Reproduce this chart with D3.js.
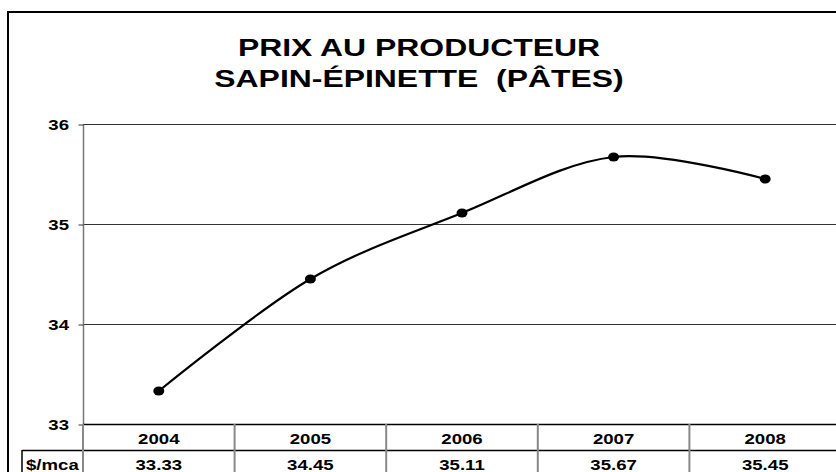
<!DOCTYPE html>
<html><head><meta charset="utf-8">
<script src="https://cdn.jsdelivr.net/npm/d3@7"></script>
<style>body{margin:0;background:#fff}svg{display:block}text{font-family:"Liberation Sans",Arial,sans-serif;font-weight:bold;fill:#000}</style>
</head><body>
<svg id="c" width="836" height="472"></svg>
<script>
const titleLines = ["PRIX AU PRODUCTEUR", "SAPIN-ÉPINETTE  (PÂTES)"];
const years = ["2004", "2005", "2006", "2007", "2008"];
const prices = [33.33, 34.45, 35.11, 35.67, 35.45];
const yTicks = [33, 34, 35, 36];
const rowLabel = "$/mca";

(function () {
const svg = d3.select("#c");
const W = 836, H = 472;
const pLeft = 83, pRight = 841, pTop = 124, pBottom = 424;
const SX = 1.33;

function stext(g, x, y, str, size, anchor) {
  return g.append("text")
    .attr("transform", `translate(${x},${y}) scale(${SX},1)`)
    .attr("text-anchor", anchor || "start")
    .style("font-size", size + "px")
    .style("white-space", "pre")
    .text(str);
}

// outer border
svg.append("rect").attr("x", 8).attr("y", 12).attr("width", 840).attr("height", 480)
  .attr("fill", "none").attr("stroke", "#000").attr("stroke-width", 2);

// title
stext(svg, 419, 56, titleLines[0], 24, "middle");
stext(svg, 419, 87, titleLines[1], 24, "middle");

const x = d3.scaleBand().domain(years).range([pLeft, pRight]);
const y = d3.scaleLinear().domain([33, 36]).range([pBottom, pTop]);

// gridlines
svg.append("g").selectAll("line").data(yTicks.slice(1)).join("line")
  .attr("x1", pLeft).attr("x2", W).attr("y1", d => y(d) + 0.5).attr("y2", d => y(d) + 0.5)
  .attr("stroke", "#333").attr("stroke-width", 1);

// y axis
const yAxis = d3.axisLeft(y).tickValues(yTicks).tickSize(5).tickFormat(d3.format("d"));
const ga = svg.append("g").attr("transform", `translate(${pLeft + 0.5},0.5)`).call(yAxis);
ga.select(".domain").attr("stroke", "#777").attr("stroke-width", 1.5).attr("d", `M0,${pTop}V${pBottom}`);
ga.selectAll(".tick line").attr("stroke", "#333");
ga.selectAll(".tick text")
  .attr("x", -14.5 / SX).attr("dy", "0.36em")
  .attr("transform", `scale(${SX},1)`)
  .style("font-size", "14px").style("font-family", "Liberation Sans, Arial, sans-serif")
  .style("font-weight", "bold").attr("fill", "#000");

// table
const tg = svg.append("g");
tg.append("line").attr("x1", pLeft).attr("x2", W).attr("y1", pBottom + 0.5).attr("y2", pBottom + 0.5).attr("stroke", "#000").attr("stroke-width", 1.5);
tg.append("line").attr("x1", 22).attr("x2", W).attr("y1", 450.5).attr("y2", 450.5).attr("stroke", "#000").attr("stroke-width", 1.5);
tg.append("line").attr("x1", 22).attr("x2", 22).attr("y1", 450).attr("y2", H).attr("stroke", "#000").attr("stroke-width", 1.5);
tg.selectAll("line.sep").data(years.slice(1)).join("line").attr("class", "sep")
  .attr("x1", d => x(d)).attr("x2", d => x(d)).attr("y1", pBottom).attr("y2", H)
  .attr("stroke", "#888").attr("stroke-width", 2);
tg.append("line").attr("x1", pLeft).attr("x2", pLeft).attr("y1", pBottom).attr("y2", H).attr("stroke", "#888").attr("stroke-width", 2);
years.forEach((yr, i) => {
  const cx = x(yr) + x.bandwidth() / 2;
  stext(tg, cx, 443.5, yr, 14, "middle");
  stext(tg, cx, 469.5, d3.format(".2f")(prices[i]), 14, "middle");
});
stext(tg, 26, 469.5, rowLabel, 14, "start");

// line
const pts = years.map((yr, i) => [x(yr) + x.bandwidth() / 2, y(prices[i])]);
svg.append("path").datum(pts).attr("d", d3.line().curve(d3.curveCardinal.tension(0)))
  .attr("fill", "none").attr("stroke", "#000").attr("stroke-width", 2.2);
svg.append("g").selectAll("ellipse").data(pts).join("ellipse")
  .attr("cx", d => d[0]).attr("cy", d => d[1]).attr("rx", 5.5).attr("ry", 4.5).attr("fill", "#000");
})();
</script>
</body></html>
